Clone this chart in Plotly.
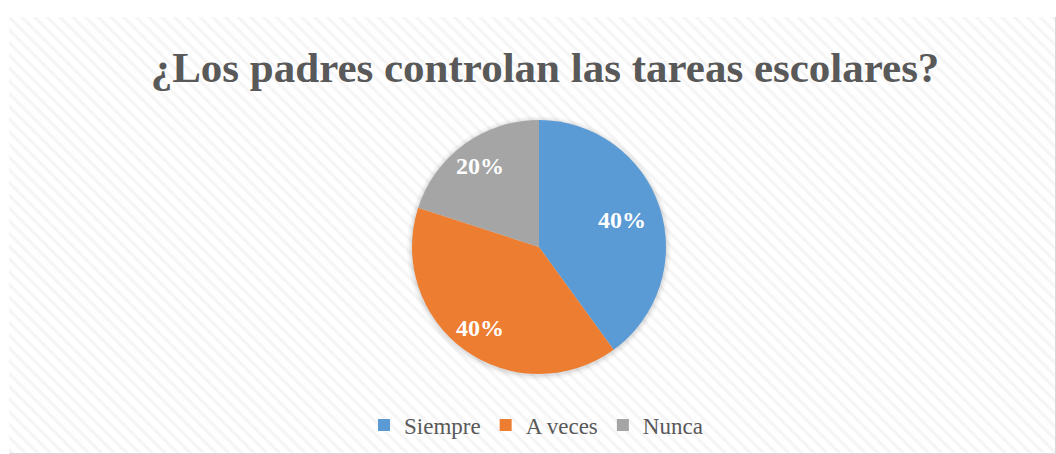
import math
import plotly.graph_objects as go

title = "¿Los padres controlan las tareas escolares?"
categories = ["Siempre", "A veces", "Nunca"]
values = [40, 40, 20]
colors = ["#5b9bd5", "#ed7d31", "#a5a5a5"]
label_radius = [0.685, 0.79, 0.79]  # fraction of pie radius for data labels

W, H = 1056, 454
# pie geometry (px)
cx, cy, R = 539, 247, 127

fig = go.Figure()

# striped chart-area background
fig.add_trace(go.Bar(
    x=[0], y=[1], width=[1], showlegend=False, hoverinfo="skip",
    marker=dict(color="white", line=dict(color="#d9d9d9", width=1),
                pattern=dict(shape="\\", fgcolor="#ebebeb", bgcolor="white",
                             size=9, solidity=0.35)),
    xaxis="x", yaxis="y",
))

# soft shadow halo behind the pie
for grow, alpha in [(5, 0.03), (3, 0.04), (1.5, 0.05)]:
    r2 = R + grow
    fig.add_trace(go.Pie(
        labels=["_shadow"], values=[1], showlegend=False, textinfo="none", hoverinfo="skip",
        marker=dict(colors=[f"rgba(0,0,0,{alpha})"], line=dict(width=0)),
        domain=dict(x=[(cx - r2) / W, (cx + r2) / W], y=[(H - cy - r2 - 1) / H, (H - cy + r2 - 1) / H]),
    ))

fig.add_trace(go.Pie(
    labels=categories, values=values, sort=False, direction="clockwise",
    rotation=0,
    marker=dict(colors=colors, line=dict(color="white", width=0)),
    textinfo="none",
    domain=dict(x=[(cx - R) / W, (cx + R) / W], y=[(H - cy - R) / H, (H - cy + R) / H]),
    hoverinfo="label+percent",
))

# data labels placed at slice mid-angles
total = sum(values)
acc = 0
for v, rf in zip(values, label_radius):
    mid = (acc + v / 2) / total * 2 * math.pi
    acc += v
    px = cx + rf * R * math.sin(mid)
    py = cy - rf * R * math.cos(mid)
    fig.add_annotation(
        x=px / W, y=(H - py) / H, xref="paper", yref="paper",
        text=f"{round(v / total * 100)}%", showarrow=False,
        xanchor="center", yanchor="middle",
        font=dict(family="Liberation Serif", size=24, color="white", weight="bold"),
    )

fig.update_layout(
    width=W, height=H,
    margin=dict(l=0, r=0, t=0, b=0),
    paper_bgcolor="white",
    plot_bgcolor="white",
    xaxis=dict(domain=[9 / W, 1.0], range=[-0.5, 0.5], visible=False, fixedrange=True),
    yaxis=dict(domain=[0, (H - 17) / H], range=[0, 1], visible=False, fixedrange=True),
    bargap=0,
    title=dict(text=title, x=545 / W, xanchor="center", y=(H - 67) / H, yanchor="middle",
               font=dict(family="Liberation Serif", size=43, color="#595959", weight="bold")),
    legend=dict(orientation="h", x=536 / W, xanchor="center", y=(H - 425) / H, yanchor="middle",
                font=dict(family="Liberation Serif", size=23, color="#595959"),
                bgcolor="rgba(0,0,0,0)", itemwidth=30),
    showlegend=True,
)

fig.write_html("out.html", config={"displayModeBar": False},
               post_script="document.body.style.margin='0';document.body.style.overflow='hidden';")
